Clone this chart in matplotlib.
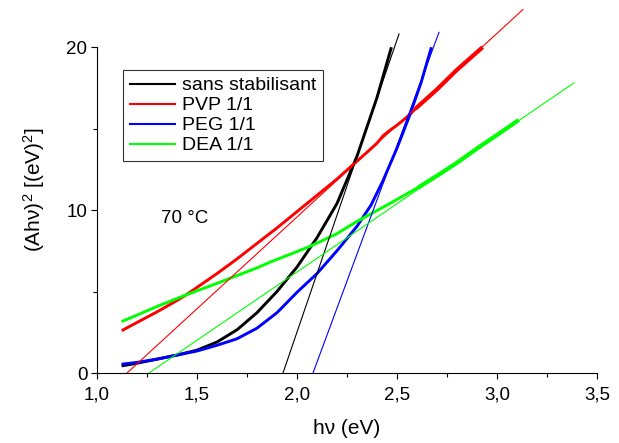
import matplotlib
matplotlib.use("Agg")
import matplotlib.pyplot as plt
from matplotlib.ticker import FixedLocator

plt.rcParams['font.family'] = ['Liberation Sans', 'DejaVu Sans']
plt.rcParams['mathtext.fontset'] = 'custom'
plt.rcParams['mathtext.rm'] = 'Liberation Sans'
plt.rcParams['mathtext.it'] = 'Liberation Sans:italic'

# measured curves (hv in eV, (Ahv)^2)
x_sans = [1.13, 1.2, 1.3, 1.4, 1.5, 1.6, 1.7, 1.8, 1.9, 2.0, 2.1, 2.2, 2.3, 2.4, 2.47]
y_sans = [0.45, 0.6, 0.85, 1.1, 1.4, 1.9, 2.65, 3.7, 5.0, 6.5, 8.3, 10.4, 13.3, 16.9, 19.9]

x_pvp = [1.13, 1.2, 1.3, 1.4, 1.44, 1.5, 1.6, 1.7, 1.8, 1.9, 2.0, 2.1, 2.2, 2.3, 2.36,
         2.4, 2.43, 2.46, 2.5, 2.55, 2.6, 2.7, 2.8, 2.92]
y_pvp = [2.64, 3.1, 3.75, 4.45, 4.75, 5.25, 6.1, 7.0, 7.95, 8.9, 9.9, 10.9, 11.9, 13.0, 13.65,
         14.1, 14.55, 14.85, 15.2, 15.7, 16.3, 17.4, 18.6, 19.9]

x_peg = [1.13, 1.2, 1.3, 1.4, 1.5, 1.6, 1.7, 1.8, 1.9, 1.96, 2.0, 2.1, 2.2, 2.26,
         2.3, 2.37, 2.43, 2.5, 2.56, 2.62, 2.67]
y_peg = [0.55, 0.65, 0.85, 1.1, 1.35, 1.7, 2.1, 2.75, 3.7, 4.45, 4.95, 6.1, 7.5, 8.4,
         9.0, 10.3, 11.8, 13.8, 15.7, 17.8, 19.9]

x_dea = [1.13, 1.2, 1.3, 1.43, 1.6, 1.8, 1.865, 2.0, 2.08, 2.2, 2.3, 2.45, 2.615,
         2.7, 2.8, 2.915, 3.0, 3.1]
y_dea = [3.19, 3.55, 4.08, 4.72, 5.5, 6.45, 6.8, 7.45, 7.85, 8.55, 9.3, 10.3, 11.45,
         12.1, 12.9, 13.9, 14.6, 15.45]

# linear fits (end points)
fit_sans = ([1.93, 2.51], [0.0, 20.8])
fit_pvp = ([1.15, 3.13], [0.0, 22.3])
fit_peg = ([2.08, 2.71], [0.0, 20.9])
fit_dea = ([1.26, 3.385], [0.0, 17.8])

labels = ['sans stabilisant', 'PVP 1/1', 'PEG 1/1', 'DEA 1/1']
colors = ['black', '#ff0000', '#0000ff', '#00ff00']

fig = plt.figure(figsize=(6.19, 4.43), dpi=100)
ax = fig.add_axes([97/619, 1-373/443, 500/619, 366.75/443])

curves = [(x_sans, y_sans), (x_pvp, y_pvp), (x_peg, y_peg), (x_dea, y_dea)]
fits = [fit_sans, fit_pvp, fit_peg, fit_dea]

for (xs, ys), lab, c in zip(curves, labels, colors):
    ax.plot(xs, ys, color=c, lw=2.1, label=lab)
# noisy tails look thicker in the original
for (xs, ys), c in zip([(x_pvp, y_pvp), (x_dea, y_dea)], colors[1::2]):
    tail = [i for i, v in enumerate(xs) if v >= 2.6]
    ax.plot([xs[i] for i in tail], [ys[i] for i in tail], color=c, lw=3.0)
for (xs, ys), c in zip(fits, colors):
    ax.plot(xs, ys, color=c, lw=0.8)

ax.set_xlim(1.0, 3.5)
ax.set_ylim(0, 22.5)
ax.spines['top'].set_visible(False)
ax.spines['right'].set_visible(False)
ax.spines['left'].set_bounds(0, 20)
ax.spines['left'].set_linewidth(0.8)
ax.spines['bottom'].set_linewidth(0.8)

ax.xaxis.set_major_locator(FixedLocator([1.0, 1.5, 2.0, 2.5, 3.0, 3.5]))
ax.xaxis.set_minor_locator(FixedLocator([1.25, 1.75, 2.25, 2.75, 3.25]))
ax.yaxis.set_major_locator(FixedLocator([0, 10, 20]))
ax.yaxis.set_minor_locator(FixedLocator([5, 15]))
ax.set_xticklabels(['1,0', '1,5', '2,0', '2,5', '3,0', '3,5'])
ax.tick_params(which='major', direction='out', length=4, width=0.8, labelsize=13.5)
ax.tick_params(axis='x', which='major', pad=6)
ax.tick_params(axis='y', which='major', pad=3)
ax.tick_params(which='minor', direction='out', length=3, width=0.8)

ax.set_xlabel('h\u03bd (eV)', fontsize=15, labelpad=11)
ax.set_ylabel('(Ah\u03bd)$^2$ [(eV)$^2$]', fontsize=15, labelpad=14)

ax.text(1.32, 9.45, '70 \u00b0C', fontsize=13.5, va='center')

leg = ax.legend(loc='upper left', bbox_to_anchor=(0.052, 0.826), borderaxespad=0,
                fontsize=14, handlelength=2.3, fancybox=False, framealpha=1,
                edgecolor='#333333', labelspacing=0.12, borderpad=0.35,
                handletextpad=0.4)
leg.get_frame().set_linewidth(0.8)
for h in leg.get_lines():
    h.set_linewidth(1.5)

fig.savefig('out.png', dpi=100)
